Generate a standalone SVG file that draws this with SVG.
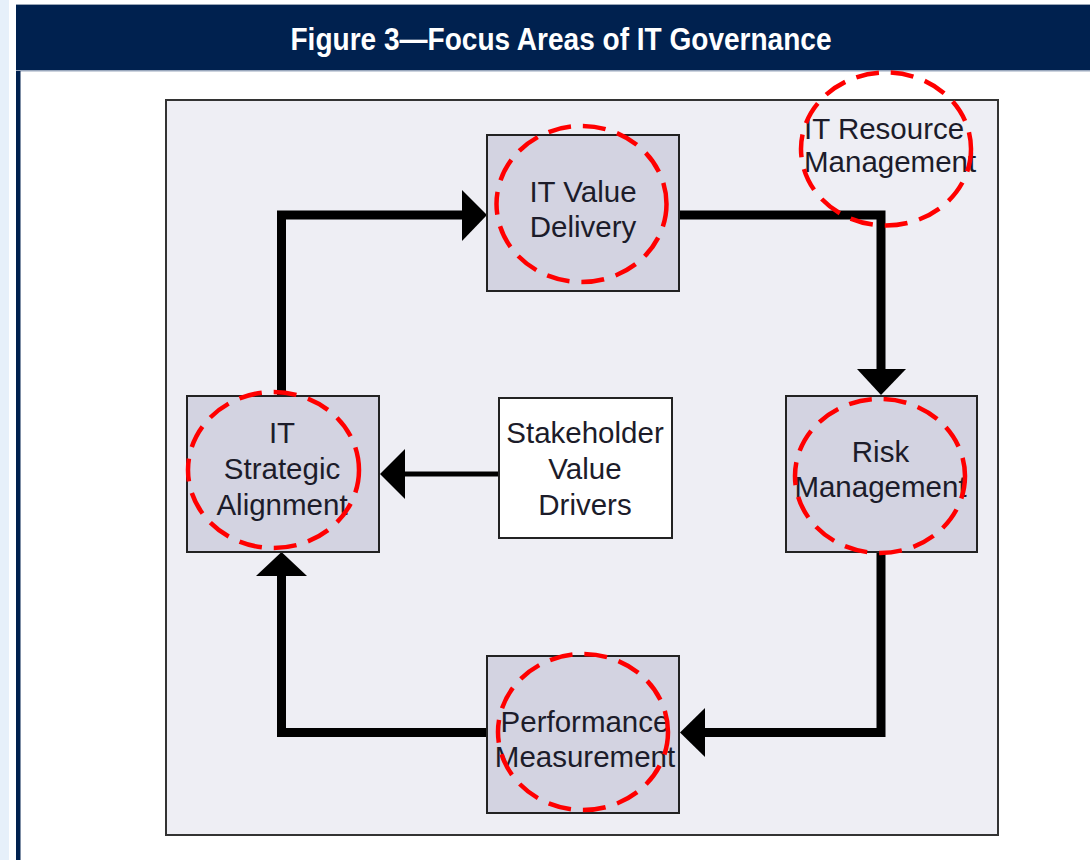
<svg xmlns="http://www.w3.org/2000/svg" width="1090" height="860" viewBox="0 0 1090 860">
<style>
.node{fill:#d3d3e1;stroke:#222;stroke-width:2}
.lbl{font-family:"Liberation Sans",Arial,sans-serif;font-size:29.5px;fill:#1c1c2a;text-anchor:middle}
.wire{fill:none;stroke:#000;stroke-width:9;stroke-linejoin:miter}
.head{fill:#000}
.ring{fill:none;stroke:#ff0000;stroke-width:4.5;stroke-dasharray:23 12}
</style>
<rect x="0" y="0" width="1090" height="860" fill="#ffffff"/>
<rect x="0" y="0" width="9" height="860" fill="#e6f0fa"/>
<rect x="16" y="4" width="1074" height="1.5" fill="#9aa6b6"/>
<rect x="16" y="5" width="1074" height="66" fill="#00214f"/>
<rect x="16" y="70" width="1074" height="1.5" fill="#9aa8bd"/>
<rect x="16" y="71" width="4.5" height="789" fill="#00214f"/>
<text x="561" y="50" font-family="'Liberation Sans',Arial,sans-serif" font-weight="bold" font-size="32" fill="#ffffff" text-anchor="middle" textLength="541" lengthAdjust="spacingAndGlyphs">Figure 3—Focus Areas of IT Governance</text>

<g id="frame">
<rect x="166" y="100" width="832" height="735" fill="#eeeef4" stroke="#333" stroke-width="2"/>
</g>

<g id="connectors">
<polyline class="wire" points="281.5,396 281.5,215 463,215"/>
<polygon class="head" points="462,190 487,215 462,241"/>
<polyline class="wire" points="679,215 881,215 881,370"/>
<polygon class="head" points="857,369 906,369 881,395"/>
<polyline class="wire" points="881,552 881,732.5 705,732.5"/>
<polygon class="head" points="705,708 705,757 680,732.5"/>
<polyline class="wire" points="487,732.5 281.5,732.5 281.5,576"/>
<polygon class="head" points="256,576 307,576 281.5,552"/>
<line x1="499" y1="474" x2="404" y2="474" stroke="#000" stroke-width="5"/>
<polygon class="head" points="405,449 405,499 380,474"/>
</g>

<g id="it-value-delivery">
<rect class="node" x="487" y="135" width="192" height="156"/>
<text class="lbl" x="583" y="202">IT Value</text>
<text class="lbl" x="583" y="237">Delivery</text>
<ellipse class="ring" cx="581.5" cy="204" rx="85" ry="78"/>
</g>

<g id="it-strategic-alignment">
<rect class="node" x="187" y="396" width="192" height="156"/>
<text class="lbl" x="282" y="443">IT</text>
<text class="lbl" x="282" y="479">Strategic</text>
<text class="lbl" x="282" y="515">Alignment</text>
<ellipse class="ring" cx="273.5" cy="470" rx="85.5" ry="78"/>
</g>

<g id="stakeholder-value-drivers">
<rect x="499" y="398" width="173" height="140" fill="#ffffff" stroke="#222" stroke-width="2"/>
<text class="lbl" x="585" y="443">Stakeholder</text>
<text class="lbl" x="585" y="479">Value</text>
<text class="lbl" x="585" y="515">Drivers</text>
</g>

<g id="risk-management">
<rect class="node" x="786" y="396" width="191" height="156"/>
<text class="lbl" x="880.5" y="462">Risk</text>
<text class="lbl" x="880.5" y="497">Management</text>
<ellipse class="ring" cx="880" cy="476" rx="85" ry="77"/>
</g>

<g id="performance-measurement">
<rect class="node" x="487" y="656" width="192" height="157"/>
<text class="lbl" x="585" y="732">Performance</text>
<text class="lbl" x="585" y="767">Measurement</text>
<ellipse class="ring" cx="583" cy="732" rx="85" ry="78"/>
</g>

<g id="it-resource-management">
<text class="lbl" x="804" y="139" style="text-anchor:start">IT Resource</text>
<text class="lbl" x="804" y="172" style="text-anchor:start">Management</text>
<ellipse class="ring" cx="886" cy="149" rx="85" ry="76.5"/>
</g>
</svg>
